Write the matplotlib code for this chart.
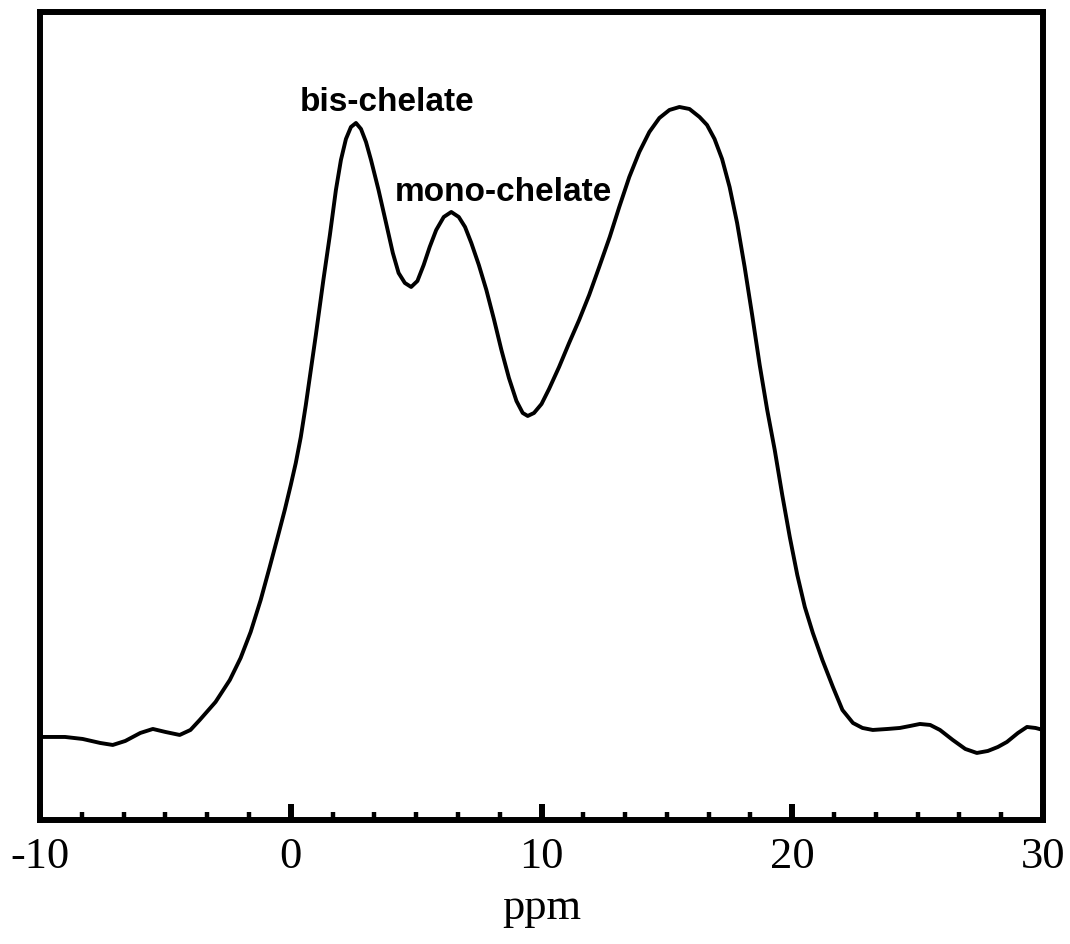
import matplotlib
matplotlib.use("Agg")
from matplotlib import pyplot as plt
from matplotlib.ticker import MultipleLocator

# chemical shift (ppm) and intensity (arbitrary units)
ppm = [
    -10.0, -9.0, -8.3, -7.6, -7.1, -6.6, -6.0, -5.5, -5.0, -4.43,
    -4.0, -3.63, -3.0, -2.43, -2.0, -1.6, -1.2, -0.84, -0.5, -0.24,
    0.0, 0.2, 0.4, 0.6, 0.8, 1.0, 1.3, 1.56, 1.8, 2.0,
    2.2, 2.4, 2.6, 2.8, 3.0, 3.2, 3.5, 3.8, 4.07, 4.3,
    4.55, 4.8, 5.05, 5.3, 5.54, 5.8, 6.1, 6.4, 6.7, 6.95,
    7.2, 7.5, 7.8, 8.1, 8.4, 8.7, 9.0, 9.25, 9.45, 9.7,
    10.0, 10.3, 10.7, 11.1, 11.5, 11.9, 12.3, 12.72, 13.1, 13.5,
    13.9, 14.3, 14.7, 15.1, 15.5, 15.9, 16.3, 16.6, 16.9, 17.2,
    17.5, 17.8, 18.1, 18.4, 18.7, 19.0, 19.3, 19.6, 19.9, 20.2,
    20.5, 20.82, 21.2, 21.62, 22.0, 22.42, 22.8, 23.21, 23.8, 24.29,
    24.7, 25.09, 25.5, 25.89, 26.4, 26.9, 27.36, 27.8, 28.2, 28.56,
    29.0, 29.36, 29.7, 30.0,
]
intensity = [
    78, 78, 76, 72, 70, 74, 82, 86, 83, 80,
    85, 95, 113, 135, 157, 183, 215, 248, 280, 305,
    330, 352, 378, 410, 445, 480, 535, 580, 625, 655,
    676, 688, 692, 686, 673, 655, 625, 592, 562, 542,
    532, 528, 534, 550, 568, 585, 598, 603, 598, 588,
    572, 550, 525, 496, 465, 437, 414, 402, 399, 402,
    411, 426, 448, 472, 495, 520, 548, 578, 608, 638,
    663, 683, 697, 705, 708, 706, 698, 690, 676, 656,
    628, 592, 548, 500, 450, 405, 365, 320, 278, 240,
    208, 182, 155, 128, 105, 92, 87, 85, 86, 87,
    89, 91, 90, 85, 75, 66, 62, 64, 68, 73,
    82, 88, 87, 85,
]
peak_labels = ["bis-chelate", "mono-chelate"]
label_ppm = [0.36, 4.15]
label_int = [712, 622]

fig = plt.figure(figsize=(10.70, 9.44), dpi=100)
ax = fig.add_axes([0.0374, 0.1314, 0.9374, 0.8559])

ax.plot(ppm, intensity, color="black", lw=2.8,
        solid_capstyle="round", solid_joinstyle="round")

for txt, x, y in zip(peak_labels, label_ppm, label_int):
    ax.text(x, y, txt, ha="left", va="center", fontsize=24, fontweight="bold",
            family="Liberation Sans")

ax.set_xlim(-10, 30)
ax.set_ylim(-5, 803)
ax.xaxis.set_major_locator(MultipleLocator(10))
ax.xaxis.set_minor_locator(MultipleLocator(10 / 6))
ax.yaxis.set_visible(False)
ax.tick_params(axis="x", which="both", direction="in", top=False)
ax.tick_params(axis="x", which="major", length=11.3, width=4.3, pad=12,
               labelsize=32)
ax.tick_params(axis="x", which="minor", length=5.8, width=3.2)
for lab in ax.get_xticklabels():
    lab.set_family("Liberation Serif")
ax.xaxis.set_major_formatter(lambda x, _: f"{x:g}")
ax.set_xlabel("ppm", fontsize=32, family="Liberation Serif", labelpad=8)

for sp in ax.spines.values():
    sp.set_linewidth(4.3)

fig.savefig("out.png", dpi=100)
